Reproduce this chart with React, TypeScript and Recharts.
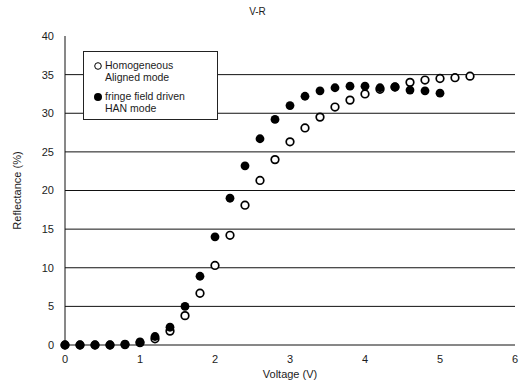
import { ScatterChart, Scatter, XAxis, YAxis, CartesianGrid } from "recharts";

const FONT = "'Liberation Sans', Arial, sans-serif";
const INK = "#1c1c1c";

// applied voltage steps (V)
const VOLTAGE_HOMO = [0, 0.2, 0.4, 0.6, 0.8, 1.0, 1.2, 1.4, 1.6, 1.8, 2.0, 2.2, 2.4, 2.6, 2.8, 3.0, 3.2, 3.4, 3.6, 3.8, 4.0, 4.2, 4.4, 4.6, 4.8, 5.0, 5.2, 5.4];
const REFLECT_HOMO = [0, 0, 0, 0, 0.05, 0.3, 0.8, 1.8, 3.8, 6.7, 10.3, 14.2, 18.1, 21.3, 24.0, 26.3, 28.1, 29.5, 30.8, 31.7, 32.5, 33.1, 33.4, 34.0, 34.3, 34.5, 34.6, 34.8];

const VOLTAGE_HAN = [0, 0.2, 0.4, 0.6, 0.8, 1.0, 1.2, 1.4, 1.6, 1.8, 2.0, 2.2, 2.4, 2.6, 2.8, 3.0, 3.2, 3.4, 3.6, 3.8, 4.0, 4.2, 4.4, 4.6, 4.8, 5.0];
const REFLECT_HAN = [0, 0, 0, 0, 0.1, 0.4, 1.1, 2.3, 5.0, 8.9, 14.0, 19.0, 23.2, 26.7, 29.2, 31.0, 32.2, 32.9, 33.3, 33.5, 33.5, 33.3, 33.4, 33.0, 32.9, 32.6];

const X_TICKS = [0, 1, 2, 3, 4, 5, 6];
const Y_TICKS = [0, 5, 10, 15, 20, 25, 30, 35, 40];
const GRID_VALUES = [5, 10, 15, 20, 25, 30, 35];

const LEGEND_ITEMS = [
  { lines: ["Homogeneous", "Aligned mode"], filled: false },
  { lines: ["fringe field driven", "HAN mode"], filled: true },
];

const homoData = VOLTAGE_HOMO.map((v, i) => ({ v, r: REFLECT_HOMO[i] }));
const hanData = VOLTAGE_HAN.map((v, i) => ({ v, r: REFLECT_HAN[i] }));

const OpenDot = (p: any) => (
  <circle cx={p.cx} cy={p.cy} r={3.8} fill="#fff" stroke="#000" strokeWidth={1.7} />
);
const FilledDot = (p: any) => <circle cx={p.cx} cy={p.cy} r={4.4} fill="#000" />;

function LegendBox() {
  return (
    <div
      style={{
        position: "absolute",
        left: 83,
        top: 51,
        width: 135,
        height: 69,
        boxSizing: "border-box",
        border: "1px solid #222",
        background: "#fff",
        padding: "8px 0 0 9px",
        fontFamily: FONT,
        fontSize: 10.5,
        lineHeight: "11.5px",
        color: INK,
      }}
    >
      {LEGEND_ITEMS.map((item, i) => (
        <div key={i} style={{ display: "flex", marginBottom: i === 0 ? 8 : 0 }}>
          <svg width={12} height={11} style={{ flexShrink: 0 }}>
            <circle
              cx={5}
              cy={6}
              r={item.filled ? 4 : 3.3}
              fill={item.filled ? "#000" : "#fff"}
              stroke="#000"
              strokeWidth={item.filled ? 0 : 1}
            />
          </svg>
          <div>
            {item.lines.map((l) => (
              <div key={l}>{l}</div>
            ))}
          </div>
        </div>
      ))}
    </div>
  );
}

export default function App() {
  const tick = { fill: INK, fontSize: 11, fontFamily: FONT };
  return (
    <div style={{ position: "absolute", left: 0, top: 0, width: 532, height: 385, background: "#fff" }}>
      <div
        style={{
          position: "absolute",
          top: 6,
          left: 0,
          width: 515,
          textAlign: "center",
          fontFamily: FONT,
          fontSize: 10,
          color: INK,
        }}
      >
        V-R
      </div>
      <ScatterChart width={532} height={385} margin={{ top: 36, right: 17, bottom: 0, left: 0 }}>
        <CartesianGrid
          vertical={false}
          horizontalValues={GRID_VALUES}
          stroke="#111"
          strokeWidth={1}
        />
        <XAxis
          type="number"
          dataKey="v"
          domain={[0, 6]}
          ticks={X_TICKS}
          height={40}
          tickLine={false}
          tickSize={6}
          tickMargin={4}
          axisLine={{ stroke: "#111" }}
          tick={tick}
          label={{
            value: "Voltage (V)",
            position: "insideBottom",
            offset: 7,
            fill: INK,
            fontSize: 11,
            fontFamily: FONT,
          }}
        />
        <YAxis
          type="number"
          dataKey="r"
          domain={[0, 40]}
          ticks={Y_TICKS}
          width={65}
          tickLine={false}
          tickSize={6}
          tickMargin={5}
          axisLine={{ stroke: "#111" }}
          tick={tick}
          label={{
            value: "Reflectance (%)",
            content: ({ viewBox }: any) => {
              const cx = viewBox.x + 18;
              const cy = viewBox.y + viewBox.height / 2;
              return (
                <text
                  x={cx}
                  y={cy}
                  transform={`rotate(-90 ${cx} ${cy})`}
                  textAnchor="middle"
                  dominantBaseline="middle"
                  fill={INK}
                  fontSize={11}
                  fontFamily={FONT}
                >
                  Reflectance (%)
                </text>
              );
            },
          }}
        />
        <Scatter
          name="Homogeneous Aligned mode"
          data={homoData}
          shape={OpenDot}
          isAnimationActive={false}
        />
        <Scatter
          name="fringe field driven HAN mode"
          data={hanData}
          shape={FilledDot}
          isAnimationActive={false}
        />
      </ScatterChart>
      <LegendBox />
    </div>
  );
}
